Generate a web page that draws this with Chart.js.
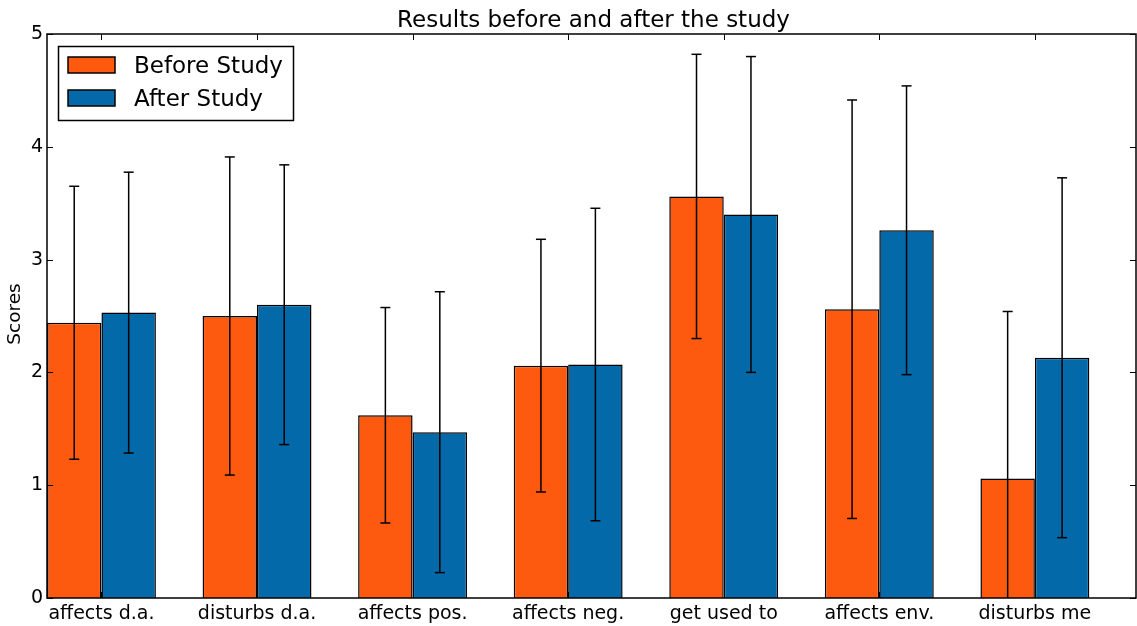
<!DOCTYPE html>
<html><head><meta charset="utf-8">
<script src="https://cdn.jsdelivr.net/npm/chart.js@4.4.1/dist/chart.umd.min.js"></script>
<style>html,body{margin:0;padding:0;background:#fff}#wrap{width:1137px;height:626px}</style>
</head><body><div id="wrap"><canvas id="c" width="1137" height="626"></canvas></div>
<script>
const categories = ['affects d.a.', 'disturbs d.a.', 'affects pos.', 'affects neg.', 'get used to', 'affects env.', 'disturbs me'];
const beforeStudy = [2.44, 2.50, 1.62, 2.06, 3.56, 2.56, 1.06];
const beforeErr = [1.21, 1.41, 0.955, 1.12, 1.26, 1.855, 1.48];
const afterStudy = [2.53, 2.60, 1.47, 2.07, 3.40, 3.26, 2.13];
const afterErr = [1.245, 1.24, 1.245, 1.385, 1.40, 1.28, 1.595];
const yTicks = [0, 1, 2, 3, 4, 5];
const seriesNames = ['Before Study', 'After Study'];
const chartTitle = 'Results before and after the study';
const yTitle = 'Scores';

const ORANGE = '#FE5A0F';
const BLUE = '#0369A9';
const FONT = "'DejaVu Sans', sans-serif";
const errs = [beforeErr, afterErr];

const decorPlugin = {
  id: 'decor',
  afterDatasetsDraw(chart) {
    const ctx = chart.ctx;
    const ca = chart.chartArea;
    const ys = chart.scales.y;
    const xs = chart.scales.x;
    ctx.save();
    // error bars
    ctx.strokeStyle = '#000';
    ctx.lineWidth = 1.5;
    chart.data.datasets.forEach((ds, di) => {
      const meta = chart.getDatasetMeta(di);
      meta.data.forEach((el, i) => {
        const v = ds.data[i].y;
        const e = errs[di][i];
        const hi = v + e, lo = v - e;
        const x = el.x;
        let yt = ys.getPixelForValue(hi), yb = ys.getPixelForValue(lo);
        const ytc = Math.max(yt, ca.top), ybc = Math.min(yb, ca.bottom);
        ctx.beginPath();
        ctx.moveTo(x, ytc); ctx.lineTo(x, ybc); ctx.stroke();
        [[hi, yt], [lo, yb]].forEach(([val, py]) => {
          if (py >= ca.top && py <= ca.bottom) {
            ctx.beginPath(); ctx.moveTo(x - 5, py); ctx.lineTo(x + 5, py); ctx.stroke();
          }
        });
      });
    });
    // frame
    ctx.lineWidth = 1.5;
    ctx.strokeRect(ca.left, ca.top, ca.right - ca.left, ca.bottom - ca.top);
    // tick marks
    ctx.lineWidth = 1;
    const tl = 6;
    yTicks.forEach(t => {
      const py = Math.round(ys.getPixelForValue(t)) + 0.5;
      ctx.beginPath();
      ctx.moveTo(ca.left, py); ctx.lineTo(ca.left + tl, py);
      ctx.moveTo(ca.right, py); ctx.lineTo(ca.right - tl, py);
      ctx.stroke();
    });
    categories.forEach((c, i) => {
      const px = Math.round(xs.getPixelForValue(i + 0.35)) + 0.5;
      ctx.beginPath();
      ctx.moveTo(px, ca.top); ctx.lineTo(px, ca.top + tl);
      ctx.moveTo(px, ca.bottom); ctx.lineTo(px, ca.bottom - tl);
      ctx.stroke();
    });
    // title
    ctx.fillStyle = '#000';
    ctx.font = '23px ' + FONT;
    ctx.textAlign = 'center';
    ctx.textBaseline = 'alphabetic';
    ctx.fillText(chartTitle, (ca.left + ca.right) / 2 + 2, 27);
    // y title
    ctx.save();
    ctx.translate(15, 314);
    ctx.rotate(-Math.PI / 2);
    ctx.font = '18.5px ' + FONT;
    ctx.textBaseline = 'middle';
    ctx.fillText(yTitle, 0, 0);
    ctx.restore();
    // legend
    ctx.fillStyle = '#fff';
    ctx.fillRect(58.5, 46.5, 235, 74);
    ctx.lineWidth = 1.5;
    ctx.strokeStyle = '#000';
    ctx.strokeRect(58.5, 46.5, 235, 74);
    const cols = [ORANGE, BLUE];
    const rowsY = [57, 90];
    const baseY = [73, 106];
    ctx.font = '23px ' + FONT;
    ctx.textAlign = 'left';
    ctx.textBaseline = 'alphabetic';
    seriesNames.forEach((n, k) => {
      ctx.fillStyle = cols[k];
      ctx.fillRect(68, rowsY[k], 47, 16);
      ctx.lineWidth = 1.5;
      ctx.strokeRect(68, rowsY[k], 47, 16);
      ctx.fillStyle = '#000';
      ctx.fillText(n, 134, baseY[k]);
    });
    ctx.restore();
  }
};

new Chart(document.getElementById('c'), {
  type: 'bar',
  data: {
    datasets: [
      { label: seriesNames[0], data: beforeStudy.map((v, i) => ({ x: i + 0.35, y: v })),
        backgroundColor: ORANGE, borderColor: '#000', borderWidth: 1.5, categoryPercentage: 0.7, barPercentage: 1.0 },
      { label: seriesNames[1], data: afterStudy.map((v, i) => ({ x: i + 0.35, y: v })),
        backgroundColor: BLUE, borderColor: '#000', borderWidth: 1.5, categoryPercentage: 0.7, barPercentage: 1.0 }
    ]
  },
  options: {
    responsive: false,
    animation: false,
    devicePixelRatio: 1,
    layout: { padding: { top: 34, right: 1, left: 0, bottom: 0 } },
    plugins: { legend: { display: false }, title: { display: false }, tooltip: { enabled: false } },
    scales: {
      x: {
        type: 'linear', min: 0, max: 7, offset: false,
        grid: { display: false, drawTicks: false }, border: { display: false },
        afterBuildTicks: s => { s.ticks = categories.map((c, i) => ({ value: i + 0.35 })); },
        afterFit: s => { s.height = 28; },
        ticks: { autoSkip: false, maxRotation: 0, minRotation: 0, padding: 7, color: '#000',
          font: { family: FONT, size: 19, lineHeight: 1.0 }, callback: (v, i) => categories[i] }
      },
      y: {
        type: 'linear', min: 0, max: 5,
        grid: { display: false, drawTicks: false }, border: { display: false },
        afterBuildTicks: s => { s.ticks = yTicks.map(v => ({ value: v })); },
        afterFit: s => { s.width = 47; },
        ticks: { padding: 4, color: '#000', font: { family: FONT, size: 19 } }
      }
    }
  },
  plugins: [decorPlugin]
});
</script></body></html>
